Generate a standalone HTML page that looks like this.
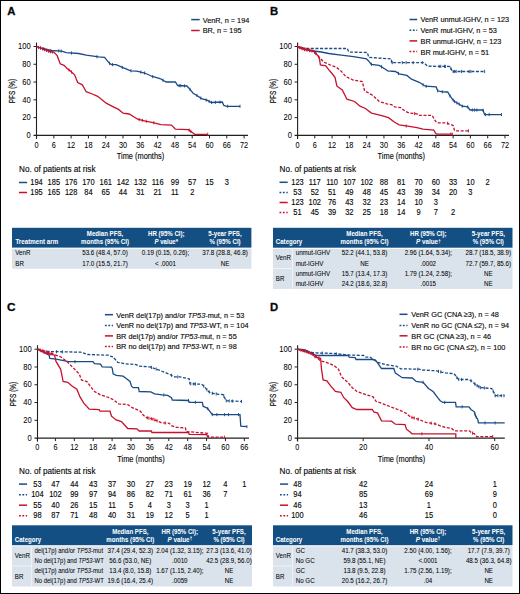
<!DOCTYPE html>
<html><head><meta charset="utf-8"><style>
html,body{margin:0;padding:0;background:#fff;}
svg{display:block;}
text{font-family:"Liberation Sans",sans-serif;}
</style></head><body>
<svg width="520" height="594" viewBox="0 0 520 594" font-family="Liberation Sans, sans-serif">
<rect x="0" y="0" width="520" height="594" fill="#ffffff"/>
<text x="7.30" y="15.00" font-size="11.3" stroke="#231f20" stroke-width="0.3" font-weight="bold">A</text>
<line x1="191.20" y1="19.60" x2="199.70" y2="19.60" stroke="#1a4b87" stroke-width="1.5"/>
<text x="202.70" y="22.50" font-size="8" stroke="#231f20" stroke-width="0.15" textLength="46.60" lengthAdjust="spacingAndGlyphs">VenR, n = 194</text>
<line x1="191.20" y1="30.50" x2="199.70" y2="30.50" stroke="#c8102e" stroke-width="1.5"/>
<text x="202.70" y="33.40" font-size="8" stroke="#231f20" stroke-width="0.15" textLength="38.86" lengthAdjust="spacingAndGlyphs">BR, n = 195</text>
<line x1="36.50" y1="42.50" x2="36.50" y2="138.90" stroke="#231f20" stroke-width="1.1"/>
<line x1="33.50" y1="135.40" x2="248.00" y2="135.40" stroke="#231f20" stroke-width="1.1"/>
<line x1="33.50" y1="117.62" x2="36.50" y2="117.62" stroke="#231f20" stroke-width="1"/>
<line x1="33.50" y1="99.84" x2="36.50" y2="99.84" stroke="#231f20" stroke-width="1"/>
<line x1="33.50" y1="82.06" x2="36.50" y2="82.06" stroke="#231f20" stroke-width="1"/>
<line x1="33.50" y1="64.28" x2="36.50" y2="64.28" stroke="#231f20" stroke-width="1"/>
<line x1="33.50" y1="46.50" x2="36.50" y2="46.50" stroke="#231f20" stroke-width="1"/>
<text x="30.80" y="138.10" font-size="8.8" stroke="#231f20" stroke-width="0.05" text-anchor="end" textLength="4.23" lengthAdjust="spacingAndGlyphs">0</text>
<text x="30.80" y="120.32" font-size="8.8" stroke="#231f20" stroke-width="0.05" text-anchor="end" textLength="8.46" lengthAdjust="spacingAndGlyphs">20</text>
<text x="30.80" y="102.54" font-size="8.8" stroke="#231f20" stroke-width="0.05" text-anchor="end" textLength="8.46" lengthAdjust="spacingAndGlyphs">40</text>
<text x="30.80" y="84.76" font-size="8.8" stroke="#231f20" stroke-width="0.05" text-anchor="end" textLength="8.46" lengthAdjust="spacingAndGlyphs">60</text>
<text x="30.80" y="66.98" font-size="8.8" stroke="#231f20" stroke-width="0.05" text-anchor="end" textLength="8.46" lengthAdjust="spacingAndGlyphs">80</text>
<text x="30.80" y="49.20" font-size="8.8" stroke="#231f20" stroke-width="0.05" text-anchor="end" textLength="12.69" lengthAdjust="spacingAndGlyphs">100</text>
<line x1="36.54" y1="135.40" x2="36.54" y2="138.40" stroke="#231f20" stroke-width="1"/>
<text x="36.54" y="148.00" font-size="8.8" stroke="#231f20" stroke-width="0.05" text-anchor="middle" textLength="4.09" lengthAdjust="spacingAndGlyphs">0</text>
<line x1="53.84" y1="135.40" x2="53.84" y2="138.40" stroke="#231f20" stroke-width="1"/>
<text x="53.84" y="148.00" font-size="8.8" stroke="#231f20" stroke-width="0.05" text-anchor="middle" textLength="4.09" lengthAdjust="spacingAndGlyphs">6</text>
<line x1="71.13" y1="135.40" x2="71.13" y2="138.40" stroke="#231f20" stroke-width="1"/>
<text x="71.13" y="148.00" font-size="8.8" stroke="#231f20" stroke-width="0.05" text-anchor="middle" textLength="8.18" lengthAdjust="spacingAndGlyphs">12</text>
<line x1="88.43" y1="135.40" x2="88.43" y2="138.40" stroke="#231f20" stroke-width="1"/>
<text x="88.43" y="148.00" font-size="8.8" stroke="#231f20" stroke-width="0.05" text-anchor="middle" textLength="8.18" lengthAdjust="spacingAndGlyphs">18</text>
<line x1="105.72" y1="135.40" x2="105.72" y2="138.40" stroke="#231f20" stroke-width="1"/>
<text x="105.72" y="148.00" font-size="8.8" stroke="#231f20" stroke-width="0.05" text-anchor="middle" textLength="8.18" lengthAdjust="spacingAndGlyphs">24</text>
<line x1="123.02" y1="135.40" x2="123.02" y2="138.40" stroke="#231f20" stroke-width="1"/>
<text x="123.02" y="148.00" font-size="8.8" stroke="#231f20" stroke-width="0.05" text-anchor="middle" textLength="8.18" lengthAdjust="spacingAndGlyphs">30</text>
<line x1="140.31" y1="135.40" x2="140.31" y2="138.40" stroke="#231f20" stroke-width="1"/>
<text x="140.31" y="148.00" font-size="8.8" stroke="#231f20" stroke-width="0.05" text-anchor="middle" textLength="8.18" lengthAdjust="spacingAndGlyphs">36</text>
<line x1="157.61" y1="135.40" x2="157.61" y2="138.40" stroke="#231f20" stroke-width="1"/>
<text x="157.61" y="148.00" font-size="8.8" stroke="#231f20" stroke-width="0.05" text-anchor="middle" textLength="8.18" lengthAdjust="spacingAndGlyphs">42</text>
<line x1="174.90" y1="135.40" x2="174.90" y2="138.40" stroke="#231f20" stroke-width="1"/>
<text x="174.90" y="148.00" font-size="8.8" stroke="#231f20" stroke-width="0.05" text-anchor="middle" textLength="8.18" lengthAdjust="spacingAndGlyphs">48</text>
<line x1="192.20" y1="135.40" x2="192.20" y2="138.40" stroke="#231f20" stroke-width="1"/>
<text x="192.20" y="148.00" font-size="8.8" stroke="#231f20" stroke-width="0.05" text-anchor="middle" textLength="8.18" lengthAdjust="spacingAndGlyphs">54</text>
<line x1="209.49" y1="135.40" x2="209.49" y2="138.40" stroke="#231f20" stroke-width="1"/>
<text x="209.49" y="148.00" font-size="8.8" stroke="#231f20" stroke-width="0.05" text-anchor="middle" textLength="8.18" lengthAdjust="spacingAndGlyphs">60</text>
<line x1="226.78" y1="135.40" x2="226.78" y2="138.40" stroke="#231f20" stroke-width="1"/>
<text x="226.78" y="148.00" font-size="8.8" stroke="#231f20" stroke-width="0.05" text-anchor="middle" textLength="8.18" lengthAdjust="spacingAndGlyphs">66</text>
<line x1="244.08" y1="135.40" x2="244.08" y2="138.40" stroke="#231f20" stroke-width="1"/>
<text x="244.08" y="148.00" font-size="8.8" stroke="#231f20" stroke-width="0.05" text-anchor="middle" textLength="8.18" lengthAdjust="spacingAndGlyphs">72</text>
<text transform="translate(14.8,91) rotate(-90)" font-size="9.6" text-anchor="middle" stroke="#231f20" stroke-width="0.2" textLength="24.5" lengthAdjust="spacingAndGlyphs">PFS (%)</text>
<text x="140.50" y="159.30" font-size="9.4" stroke="#231f20" stroke-width="0.15" text-anchor="middle" textLength="47.40" lengthAdjust="spacingAndGlyphs">Time (months)</text>
<text x="19.00" y="171.70" font-size="9" stroke="#231f20" stroke-width="0.15" textLength="76.50" lengthAdjust="spacingAndGlyphs">No. of patients at risk</text>
<line x1="18.90" y1="182.50" x2="27.10" y2="182.50" stroke="#1a4b87" stroke-width="1.5"/>
<text x="36.54" y="185.00" font-size="9" stroke="#231f20" stroke-width="0.15" text-anchor="middle" textLength="12.46" lengthAdjust="spacingAndGlyphs">194</text>
<text x="53.84" y="185.00" font-size="9" stroke="#231f20" stroke-width="0.15" text-anchor="middle" textLength="12.46" lengthAdjust="spacingAndGlyphs">185</text>
<text x="71.13" y="185.00" font-size="9" stroke="#231f20" stroke-width="0.15" text-anchor="middle" textLength="12.46" lengthAdjust="spacingAndGlyphs">176</text>
<text x="88.43" y="185.00" font-size="9" stroke="#231f20" stroke-width="0.15" text-anchor="middle" textLength="12.46" lengthAdjust="spacingAndGlyphs">170</text>
<text x="105.72" y="185.00" font-size="9" stroke="#231f20" stroke-width="0.15" text-anchor="middle" textLength="12.46" lengthAdjust="spacingAndGlyphs">161</text>
<text x="123.02" y="185.00" font-size="9" stroke="#231f20" stroke-width="0.15" text-anchor="middle" textLength="12.46" lengthAdjust="spacingAndGlyphs">142</text>
<text x="140.31" y="185.00" font-size="9" stroke="#231f20" stroke-width="0.15" text-anchor="middle" textLength="12.46" lengthAdjust="spacingAndGlyphs">132</text>
<text x="157.61" y="185.00" font-size="9" stroke="#231f20" stroke-width="0.15" text-anchor="middle" textLength="11.91" lengthAdjust="spacingAndGlyphs">116</text>
<text x="174.90" y="185.00" font-size="9" stroke="#231f20" stroke-width="0.15" text-anchor="middle" textLength="8.31" lengthAdjust="spacingAndGlyphs">99</text>
<text x="192.20" y="185.00" font-size="9" stroke="#231f20" stroke-width="0.15" text-anchor="middle" textLength="8.31" lengthAdjust="spacingAndGlyphs">57</text>
<text x="209.49" y="185.00" font-size="9" stroke="#231f20" stroke-width="0.15" text-anchor="middle" textLength="8.31" lengthAdjust="spacingAndGlyphs">15</text>
<text x="226.78" y="185.00" font-size="9" stroke="#231f20" stroke-width="0.15" text-anchor="middle" textLength="4.15" lengthAdjust="spacingAndGlyphs">3</text>
<line x1="18.90" y1="192.50" x2="27.10" y2="192.50" stroke="#c8102e" stroke-width="1.5"/>
<text x="36.54" y="195.00" font-size="9" stroke="#231f20" stroke-width="0.15" text-anchor="middle" textLength="12.46" lengthAdjust="spacingAndGlyphs">195</text>
<text x="53.84" y="195.00" font-size="9" stroke="#231f20" stroke-width="0.15" text-anchor="middle" textLength="12.46" lengthAdjust="spacingAndGlyphs">165</text>
<text x="71.13" y="195.00" font-size="9" stroke="#231f20" stroke-width="0.15" text-anchor="middle" textLength="12.46" lengthAdjust="spacingAndGlyphs">128</text>
<text x="88.43" y="195.00" font-size="9" stroke="#231f20" stroke-width="0.15" text-anchor="middle" textLength="8.31" lengthAdjust="spacingAndGlyphs">84</text>
<text x="105.72" y="195.00" font-size="9" stroke="#231f20" stroke-width="0.15" text-anchor="middle" textLength="8.31" lengthAdjust="spacingAndGlyphs">65</text>
<text x="123.02" y="195.00" font-size="9" stroke="#231f20" stroke-width="0.15" text-anchor="middle" textLength="8.31" lengthAdjust="spacingAndGlyphs">44</text>
<text x="140.31" y="195.00" font-size="9" stroke="#231f20" stroke-width="0.15" text-anchor="middle" textLength="8.31" lengthAdjust="spacingAndGlyphs">31</text>
<text x="157.61" y="195.00" font-size="9" stroke="#231f20" stroke-width="0.15" text-anchor="middle" textLength="8.31" lengthAdjust="spacingAndGlyphs">21</text>
<text x="174.90" y="195.00" font-size="9" stroke="#231f20" stroke-width="0.15" text-anchor="middle" textLength="7.75" lengthAdjust="spacingAndGlyphs">11</text>
<text x="192.20" y="195.00" font-size="9" stroke="#231f20" stroke-width="0.15" text-anchor="middle" textLength="4.15" lengthAdjust="spacingAndGlyphs">2</text>
<polyline points="36.3,46.5 43.2,48.5 50.9,50.5 61.7,51.1 66.3,52.6 78.6,53.5 86.3,55.1 98.6,56.9 104.6,57.4 109.2,63.1 111.5,64.6 116.2,64.6 123.0,67.7 130.8,70.8 136.9,71.2 144.6,73.0 152.3,76.5 160.0,78.5 166.2,82.0 175.4,82.0 177.7,85.5 186.9,86.0 190.0,89.4 193.1,93.2 196.9,95.5 201.5,98.6 206.9,100.2 211.5,102.5 222.3,102.0 223.8,105.5 226.9,106.3 240.0,106.3" fill="none" stroke="#1a4b87" stroke-width="1.3"/>
<polyline points="36.3,46.5 43.2,49.2 49.4,51.5 54.0,52.3 57.1,55.4 60.2,63.8 64.0,65.4 67.1,68.5 71.0,71.5 74.6,74.8 77.7,82.5 82.3,84.8 86.2,91.7 92.3,94.0 97.7,96.3 106.2,103.2 113.8,107.1 118.5,109.4 123.1,113.2 129.2,114.0 137.7,119.2 145.4,121.1 153.1,122.6 160.8,124.6 171.5,125.1 175.4,129.2 188.5,129.7 193.1,133.1 194.6,134.3 207.7,134.3" fill="none" stroke="#c8102e" stroke-width="1.3"/>
<rect x="12" y="227.8" width="239.4" height="19.8" fill="#144f83"/>
<rect x="12" y="248.7" width="239.4" height="20.1" fill="#dae3ec"/>
<text x="15.40" y="244.00" font-size="6.5" stroke="#ffffff" stroke-width="0.03" font-weight="bold" fill="#ffffff" textLength="42.80" lengthAdjust="spacingAndGlyphs">Treatment arm</text>
<text x="105.00" y="236.20" font-size="6.5" stroke="#ffffff" stroke-width="0.03" font-weight="bold" text-anchor="middle" fill="#ffffff" textLength="36.33" lengthAdjust="spacingAndGlyphs">Median PFS,</text>
<text x="105.00" y="244.20" font-size="6.5" stroke="#ffffff" stroke-width="0.03" font-weight="bold" text-anchor="middle" fill="#ffffff" textLength="47.87" lengthAdjust="spacingAndGlyphs">months (95% CI)</text>
<text x="166.30" y="236.20" font-size="6.5" stroke="#ffffff" stroke-width="0.03" font-weight="bold" text-anchor="middle" fill="#ffffff" textLength="36.66" lengthAdjust="spacingAndGlyphs">HR (95% CI);</text>
<text x="166.30" y="244.20" font-size="6.5" stroke="#ffffff" stroke-width="0.03" font-weight="bold" text-anchor="middle" fill="#ffffff" textLength="23.66" lengthAdjust="spacingAndGlyphs"><tspan font-style="italic">P</tspan> value<tspan dy="-0.6">*</tspan></text>
<text x="225.00" y="236.20" font-size="6.5" stroke="#ffffff" stroke-width="0.03" font-weight="bold" text-anchor="middle" fill="#ffffff" textLength="33.28" lengthAdjust="spacingAndGlyphs">5-year PFS,</text>
<text x="225.00" y="244.20" font-size="6.5" stroke="#ffffff" stroke-width="0.03" font-weight="bold" text-anchor="middle" fill="#ffffff" textLength="31.24" lengthAdjust="spacingAndGlyphs">% (95% CI)</text>
<text x="15.30" y="255.10" font-size="6.4" stroke="#231f20" stroke-width="0.06" textLength="15.19" lengthAdjust="spacingAndGlyphs">VenR</text>
<text x="105.00" y="255.10" font-size="6.4" stroke="#231f20" stroke-width="0.06" text-anchor="middle" textLength="45.56" lengthAdjust="spacingAndGlyphs">53.6 (48.4, 57.0)</text>
<text x="165.50" y="255.10" font-size="6.4" stroke="#231f20" stroke-width="0.06" text-anchor="middle" textLength="47.28" lengthAdjust="spacingAndGlyphs">0.19 (0.15, 0.26);</text>
<text x="225.00" y="255.10" font-size="6.4" stroke="#231f20" stroke-width="0.06" text-anchor="middle" textLength="45.56" lengthAdjust="spacingAndGlyphs">37.8 (28.8, 46.8)</text>
<text x="15.30" y="265.70" font-size="6.4" stroke="#231f20" stroke-width="0.06" textLength="8.62" lengthAdjust="spacingAndGlyphs">BR</text>
<text x="105.00" y="265.70" font-size="6.4" stroke="#231f20" stroke-width="0.06" text-anchor="middle" textLength="45.56" lengthAdjust="spacingAndGlyphs">17.0 (15.5, 21.7)</text>
<text x="165.50" y="265.70" font-size="6.4" stroke="#231f20" stroke-width="0.06" text-anchor="middle" textLength="20.89" lengthAdjust="spacingAndGlyphs">&lt; .0001</text>
<text x="225.00" y="265.70" font-size="6.4" stroke="#231f20" stroke-width="0.06" text-anchor="middle" textLength="8.62" lengthAdjust="spacingAndGlyphs">NE</text>
<text x="270.00" y="15.00" font-size="11.3" stroke="#231f20" stroke-width="0.3" font-weight="bold">B</text>
<line x1="409.50" y1="19.50" x2="417.20" y2="19.50" stroke="#1a4b87" stroke-width="1.5"/>
<text x="420.50" y="22.40" font-size="8" stroke="#231f20" stroke-width="0.15" textLength="88.64" lengthAdjust="spacingAndGlyphs">VenR unmut-IGHV, n = 123</text>
<line x1="409.50" y1="30.20" x2="417.20" y2="30.20" stroke="#1a4b87" stroke-width="1.5" stroke-dasharray="1.8,1.6"/>
<text x="420.50" y="33.10" font-size="8" stroke="#231f20" stroke-width="0.15" textLength="76.43" lengthAdjust="spacingAndGlyphs">VenR mut-IGHV, n = 53</text>
<line x1="409.50" y1="40.90" x2="417.20" y2="40.90" stroke="#c8102e" stroke-width="1.5"/>
<text x="420.50" y="43.80" font-size="8" stroke="#231f20" stroke-width="0.15" textLength="80.90" lengthAdjust="spacingAndGlyphs">BR unmut-IGHV, n = 123</text>
<line x1="409.50" y1="51.60" x2="417.20" y2="51.60" stroke="#c8102e" stroke-width="1.5" stroke-dasharray="1.8,1.6"/>
<text x="420.50" y="54.50" font-size="8" stroke="#231f20" stroke-width="0.15" textLength="68.69" lengthAdjust="spacingAndGlyphs">BR mut-IGHV, n = 51</text>
<line x1="297.60" y1="42.50" x2="297.60" y2="138.90" stroke="#231f20" stroke-width="1.1"/>
<line x1="294.60" y1="135.40" x2="509.00" y2="135.40" stroke="#231f20" stroke-width="1.1"/>
<line x1="294.60" y1="117.62" x2="297.60" y2="117.62" stroke="#231f20" stroke-width="1"/>
<line x1="294.60" y1="99.84" x2="297.60" y2="99.84" stroke="#231f20" stroke-width="1"/>
<line x1="294.60" y1="82.06" x2="297.60" y2="82.06" stroke="#231f20" stroke-width="1"/>
<line x1="294.60" y1="64.28" x2="297.60" y2="64.28" stroke="#231f20" stroke-width="1"/>
<line x1="294.60" y1="46.50" x2="297.60" y2="46.50" stroke="#231f20" stroke-width="1"/>
<text x="291.90" y="138.10" font-size="8.8" stroke="#231f20" stroke-width="0.05" text-anchor="end" textLength="4.23" lengthAdjust="spacingAndGlyphs">0</text>
<text x="291.90" y="120.32" font-size="8.8" stroke="#231f20" stroke-width="0.05" text-anchor="end" textLength="8.46" lengthAdjust="spacingAndGlyphs">20</text>
<text x="291.90" y="102.54" font-size="8.8" stroke="#231f20" stroke-width="0.05" text-anchor="end" textLength="8.46" lengthAdjust="spacingAndGlyphs">40</text>
<text x="291.90" y="84.76" font-size="8.8" stroke="#231f20" stroke-width="0.05" text-anchor="end" textLength="8.46" lengthAdjust="spacingAndGlyphs">60</text>
<text x="291.90" y="66.98" font-size="8.8" stroke="#231f20" stroke-width="0.05" text-anchor="end" textLength="8.46" lengthAdjust="spacingAndGlyphs">80</text>
<text x="291.90" y="49.20" font-size="8.8" stroke="#231f20" stroke-width="0.05" text-anchor="end" textLength="12.69" lengthAdjust="spacingAndGlyphs">100</text>
<line x1="297.50" y1="135.40" x2="297.50" y2="138.40" stroke="#231f20" stroke-width="1"/>
<text x="297.50" y="148.00" font-size="8.8" stroke="#231f20" stroke-width="0.05" text-anchor="middle" textLength="4.09" lengthAdjust="spacingAndGlyphs">0</text>
<line x1="314.79" y1="135.40" x2="314.79" y2="138.40" stroke="#231f20" stroke-width="1"/>
<text x="314.79" y="148.00" font-size="8.8" stroke="#231f20" stroke-width="0.05" text-anchor="middle" textLength="4.09" lengthAdjust="spacingAndGlyphs">6</text>
<line x1="332.08" y1="135.40" x2="332.08" y2="138.40" stroke="#231f20" stroke-width="1"/>
<text x="332.08" y="148.00" font-size="8.8" stroke="#231f20" stroke-width="0.05" text-anchor="middle" textLength="8.18" lengthAdjust="spacingAndGlyphs">12</text>
<line x1="349.37" y1="135.40" x2="349.37" y2="138.40" stroke="#231f20" stroke-width="1"/>
<text x="349.37" y="148.00" font-size="8.8" stroke="#231f20" stroke-width="0.05" text-anchor="middle" textLength="8.18" lengthAdjust="spacingAndGlyphs">18</text>
<line x1="366.66" y1="135.40" x2="366.66" y2="138.40" stroke="#231f20" stroke-width="1"/>
<text x="366.66" y="148.00" font-size="8.8" stroke="#231f20" stroke-width="0.05" text-anchor="middle" textLength="8.18" lengthAdjust="spacingAndGlyphs">24</text>
<line x1="383.95" y1="135.40" x2="383.95" y2="138.40" stroke="#231f20" stroke-width="1"/>
<text x="383.95" y="148.00" font-size="8.8" stroke="#231f20" stroke-width="0.05" text-anchor="middle" textLength="8.18" lengthAdjust="spacingAndGlyphs">30</text>
<line x1="401.24" y1="135.40" x2="401.24" y2="138.40" stroke="#231f20" stroke-width="1"/>
<text x="401.24" y="148.00" font-size="8.8" stroke="#231f20" stroke-width="0.05" text-anchor="middle" textLength="8.18" lengthAdjust="spacingAndGlyphs">36</text>
<line x1="418.53" y1="135.40" x2="418.53" y2="138.40" stroke="#231f20" stroke-width="1"/>
<text x="418.53" y="148.00" font-size="8.8" stroke="#231f20" stroke-width="0.05" text-anchor="middle" textLength="8.18" lengthAdjust="spacingAndGlyphs">42</text>
<line x1="435.82" y1="135.40" x2="435.82" y2="138.40" stroke="#231f20" stroke-width="1"/>
<text x="435.82" y="148.00" font-size="8.8" stroke="#231f20" stroke-width="0.05" text-anchor="middle" textLength="8.18" lengthAdjust="spacingAndGlyphs">48</text>
<line x1="453.11" y1="135.40" x2="453.11" y2="138.40" stroke="#231f20" stroke-width="1"/>
<text x="453.11" y="148.00" font-size="8.8" stroke="#231f20" stroke-width="0.05" text-anchor="middle" textLength="8.18" lengthAdjust="spacingAndGlyphs">54</text>
<line x1="470.40" y1="135.40" x2="470.40" y2="138.40" stroke="#231f20" stroke-width="1"/>
<text x="470.40" y="148.00" font-size="8.8" stroke="#231f20" stroke-width="0.05" text-anchor="middle" textLength="8.18" lengthAdjust="spacingAndGlyphs">60</text>
<line x1="487.69" y1="135.40" x2="487.69" y2="138.40" stroke="#231f20" stroke-width="1"/>
<text x="487.69" y="148.00" font-size="8.8" stroke="#231f20" stroke-width="0.05" text-anchor="middle" textLength="8.18" lengthAdjust="spacingAndGlyphs">66</text>
<line x1="504.98" y1="135.40" x2="504.98" y2="138.40" stroke="#231f20" stroke-width="1"/>
<text x="504.98" y="148.00" font-size="8.8" stroke="#231f20" stroke-width="0.05" text-anchor="middle" textLength="8.18" lengthAdjust="spacingAndGlyphs">72</text>
<text transform="translate(275.8,91) rotate(-90)" font-size="9.6" text-anchor="middle" stroke="#231f20" stroke-width="0.2" textLength="24.5" lengthAdjust="spacingAndGlyphs">PFS (%)</text>
<text x="401.30" y="159.30" font-size="9.4" stroke="#231f20" stroke-width="0.15" text-anchor="middle" textLength="47.40" lengthAdjust="spacingAndGlyphs">Time (months)</text>
<text x="279.50" y="171.70" font-size="9" stroke="#231f20" stroke-width="0.15" textLength="76.50" lengthAdjust="spacingAndGlyphs">No. of patients at risk</text>
<line x1="279.50" y1="182.30" x2="287.70" y2="182.30" stroke="#1a4b87" stroke-width="1.5"/>
<text x="297.50" y="184.80" font-size="9" stroke="#231f20" stroke-width="0.15" text-anchor="middle" textLength="12.46" lengthAdjust="spacingAndGlyphs">123</text>
<text x="314.79" y="184.80" font-size="9" stroke="#231f20" stroke-width="0.15" text-anchor="middle" textLength="11.91" lengthAdjust="spacingAndGlyphs">117</text>
<text x="332.08" y="184.80" font-size="9" stroke="#231f20" stroke-width="0.15" text-anchor="middle" textLength="11.91" lengthAdjust="spacingAndGlyphs">110</text>
<text x="349.37" y="184.80" font-size="9" stroke="#231f20" stroke-width="0.15" text-anchor="middle" textLength="12.46" lengthAdjust="spacingAndGlyphs">107</text>
<text x="366.66" y="184.80" font-size="9" stroke="#231f20" stroke-width="0.15" text-anchor="middle" textLength="12.46" lengthAdjust="spacingAndGlyphs">102</text>
<text x="383.95" y="184.80" font-size="9" stroke="#231f20" stroke-width="0.15" text-anchor="middle" textLength="8.31" lengthAdjust="spacingAndGlyphs">88</text>
<text x="401.24" y="184.80" font-size="9" stroke="#231f20" stroke-width="0.15" text-anchor="middle" textLength="8.31" lengthAdjust="spacingAndGlyphs">81</text>
<text x="418.53" y="184.80" font-size="9" stroke="#231f20" stroke-width="0.15" text-anchor="middle" textLength="8.31" lengthAdjust="spacingAndGlyphs">70</text>
<text x="435.82" y="184.80" font-size="9" stroke="#231f20" stroke-width="0.15" text-anchor="middle" textLength="8.31" lengthAdjust="spacingAndGlyphs">60</text>
<text x="453.11" y="184.80" font-size="9" stroke="#231f20" stroke-width="0.15" text-anchor="middle" textLength="8.31" lengthAdjust="spacingAndGlyphs">33</text>
<text x="470.40" y="184.80" font-size="9" stroke="#231f20" stroke-width="0.15" text-anchor="middle" textLength="8.31" lengthAdjust="spacingAndGlyphs">10</text>
<text x="487.69" y="184.80" font-size="9" stroke="#231f20" stroke-width="0.15" text-anchor="middle" textLength="4.15" lengthAdjust="spacingAndGlyphs">2</text>
<line x1="279.50" y1="192.40" x2="287.70" y2="192.40" stroke="#1a4b87" stroke-width="1.5" stroke-dasharray="1.8,1.6"/>
<text x="297.50" y="194.90" font-size="9" stroke="#231f20" stroke-width="0.15" text-anchor="middle" textLength="8.31" lengthAdjust="spacingAndGlyphs">53</text>
<text x="314.79" y="194.90" font-size="9" stroke="#231f20" stroke-width="0.15" text-anchor="middle" textLength="8.31" lengthAdjust="spacingAndGlyphs">52</text>
<text x="332.08" y="194.90" font-size="9" stroke="#231f20" stroke-width="0.15" text-anchor="middle" textLength="8.31" lengthAdjust="spacingAndGlyphs">51</text>
<text x="349.37" y="194.90" font-size="9" stroke="#231f20" stroke-width="0.15" text-anchor="middle" textLength="8.31" lengthAdjust="spacingAndGlyphs">49</text>
<text x="366.66" y="194.90" font-size="9" stroke="#231f20" stroke-width="0.15" text-anchor="middle" textLength="8.31" lengthAdjust="spacingAndGlyphs">48</text>
<text x="383.95" y="194.90" font-size="9" stroke="#231f20" stroke-width="0.15" text-anchor="middle" textLength="8.31" lengthAdjust="spacingAndGlyphs">45</text>
<text x="401.24" y="194.90" font-size="9" stroke="#231f20" stroke-width="0.15" text-anchor="middle" textLength="8.31" lengthAdjust="spacingAndGlyphs">43</text>
<text x="418.53" y="194.90" font-size="9" stroke="#231f20" stroke-width="0.15" text-anchor="middle" textLength="8.31" lengthAdjust="spacingAndGlyphs">39</text>
<text x="435.82" y="194.90" font-size="9" stroke="#231f20" stroke-width="0.15" text-anchor="middle" textLength="8.31" lengthAdjust="spacingAndGlyphs">34</text>
<text x="453.11" y="194.90" font-size="9" stroke="#231f20" stroke-width="0.15" text-anchor="middle" textLength="8.31" lengthAdjust="spacingAndGlyphs">20</text>
<text x="470.40" y="194.90" font-size="9" stroke="#231f20" stroke-width="0.15" text-anchor="middle" textLength="4.15" lengthAdjust="spacingAndGlyphs">3</text>
<line x1="279.50" y1="202.50" x2="287.70" y2="202.50" stroke="#c8102e" stroke-width="1.5"/>
<text x="297.50" y="205.00" font-size="9" stroke="#231f20" stroke-width="0.15" text-anchor="middle" textLength="12.46" lengthAdjust="spacingAndGlyphs">123</text>
<text x="314.79" y="205.00" font-size="9" stroke="#231f20" stroke-width="0.15" text-anchor="middle" textLength="12.46" lengthAdjust="spacingAndGlyphs">102</text>
<text x="332.08" y="205.00" font-size="9" stroke="#231f20" stroke-width="0.15" text-anchor="middle" textLength="8.31" lengthAdjust="spacingAndGlyphs">76</text>
<text x="349.37" y="205.00" font-size="9" stroke="#231f20" stroke-width="0.15" text-anchor="middle" textLength="8.31" lengthAdjust="spacingAndGlyphs">43</text>
<text x="366.66" y="205.00" font-size="9" stroke="#231f20" stroke-width="0.15" text-anchor="middle" textLength="8.31" lengthAdjust="spacingAndGlyphs">32</text>
<text x="383.95" y="205.00" font-size="9" stroke="#231f20" stroke-width="0.15" text-anchor="middle" textLength="8.31" lengthAdjust="spacingAndGlyphs">23</text>
<text x="401.24" y="205.00" font-size="9" stroke="#231f20" stroke-width="0.15" text-anchor="middle" textLength="8.31" lengthAdjust="spacingAndGlyphs">14</text>
<text x="418.53" y="205.00" font-size="9" stroke="#231f20" stroke-width="0.15" text-anchor="middle" textLength="8.31" lengthAdjust="spacingAndGlyphs">10</text>
<text x="435.82" y="205.00" font-size="9" stroke="#231f20" stroke-width="0.15" text-anchor="middle" textLength="4.15" lengthAdjust="spacingAndGlyphs">3</text>
<line x1="279.50" y1="212.60" x2="287.70" y2="212.60" stroke="#c8102e" stroke-width="1.5" stroke-dasharray="1.8,1.6"/>
<text x="297.50" y="215.10" font-size="9" stroke="#231f20" stroke-width="0.15" text-anchor="middle" textLength="8.31" lengthAdjust="spacingAndGlyphs">51</text>
<text x="314.79" y="215.10" font-size="9" stroke="#231f20" stroke-width="0.15" text-anchor="middle" textLength="8.31" lengthAdjust="spacingAndGlyphs">45</text>
<text x="332.08" y="215.10" font-size="9" stroke="#231f20" stroke-width="0.15" text-anchor="middle" textLength="8.31" lengthAdjust="spacingAndGlyphs">39</text>
<text x="349.37" y="215.10" font-size="9" stroke="#231f20" stroke-width="0.15" text-anchor="middle" textLength="8.31" lengthAdjust="spacingAndGlyphs">32</text>
<text x="366.66" y="215.10" font-size="9" stroke="#231f20" stroke-width="0.15" text-anchor="middle" textLength="8.31" lengthAdjust="spacingAndGlyphs">25</text>
<text x="383.95" y="215.10" font-size="9" stroke="#231f20" stroke-width="0.15" text-anchor="middle" textLength="8.31" lengthAdjust="spacingAndGlyphs">18</text>
<text x="401.24" y="215.10" font-size="9" stroke="#231f20" stroke-width="0.15" text-anchor="middle" textLength="8.31" lengthAdjust="spacingAndGlyphs">14</text>
<text x="418.53" y="215.10" font-size="9" stroke="#231f20" stroke-width="0.15" text-anchor="middle" textLength="4.15" lengthAdjust="spacingAndGlyphs">9</text>
<text x="435.82" y="215.10" font-size="9" stroke="#231f20" stroke-width="0.15" text-anchor="middle" textLength="4.15" lengthAdjust="spacingAndGlyphs">7</text>
<text x="453.11" y="215.10" font-size="9" stroke="#231f20" stroke-width="0.15" text-anchor="middle" textLength="4.15" lengthAdjust="spacingAndGlyphs">2</text>
<polyline points="297.3,46.6 310.4,50.5 321.2,52.0 328.8,53.5 341.2,55.1 353.5,56.6 359.6,57.7 366.5,58.9 368.8,61.2 371.2,64.3 379.2,65.4 385.4,69.2 387.7,70.8 395.4,71.5 399.2,73.8 406.9,75.4 411.5,79.2 419.2,82.3 425.4,86.2 436.2,86.9 437.7,90.8 442.3,91.8 447.7,92.0 449.2,94.6 452.3,99.2 454.6,101.5 458.5,103.8 462.3,106.2 467.7,106.9 470.0,110.0 483.0,110.0 484.6,114.6 501.5,114.6" fill="none" stroke="#1a4b87" stroke-width="1.3"/>
<polyline points="297.3,46.6 304.2,48.5 347.3,48.5 348.8,52.0 367.3,52.5 368.8,57.4 391.5,58.9 391.5,62.6 423.8,62.6 427.7,66.2 450.0,66.5 452.3,71.5 484.6,71.5" fill="none" stroke="#1a4b87" stroke-width="1.3" stroke-dasharray="3,1.6"/>
<polyline points="297.3,46.6 304.2,49.7 313.5,51.2 318.1,55.8 319.6,59.7 320.4,65.0 325.8,65.8 328.1,68.9 332.0,73.5 335.0,77.4 336.9,86.2 342.3,90.0 346.9,99.2 354.6,101.5 360.0,106.2 365.4,108.5 371.5,113.1 380.8,115.4 388.5,117.7 394.6,122.3 399.2,124.8 407.7,126.2 416.9,127.7 423.1,129.2 433.8,130.0 435.4,133.1 437.0,134.2 452.3,134.2" fill="none" stroke="#c8102e" stroke-width="1.3"/>
<polyline points="297.3,46.6 313.5,51.2 319.6,57.4 323.5,62.0 330.4,65.0 336.5,67.4 341.2,71.2 345.8,76.6 353.1,80.0 362.3,81.5 364.6,90.8 371.5,94.6 376.2,98.5 379.2,101.5 386.9,103.8 391.5,104.6 394.6,106.9 400.8,107.7 404.6,110.8 409.2,113.1 416.9,113.8 418.5,115.4 432.3,115.4 434.6,120.0 436.9,122.8 446.9,122.8 448.5,123.8 453.1,125.4 454.6,130.8 468.5,130.8" fill="none" stroke="#c8102e" stroke-width="1.3" stroke-dasharray="3,1.6"/>
<rect x="273" y="227.8" width="239.5" height="19.899999999999988" fill="#144f83"/>
<rect x="273" y="248.79999999999998" width="239.5" height="40.150000000000006" fill="#dae3ec"/>
<line x1="292.50" y1="248.80" x2="292.50" y2="288.95" stroke="#eef2f6" stroke-width="1"/>
<line x1="273.00" y1="268.50" x2="292.50" y2="268.50" stroke="#eef2f6" stroke-width="1"/>
<text x="275.80" y="244.20" font-size="6.5" stroke="#ffffff" stroke-width="0.03" font-weight="bold" fill="#ffffff" textLength="26.48" lengthAdjust="spacingAndGlyphs">Category</text>
<text x="364.50" y="236.20" font-size="6.5" stroke="#ffffff" stroke-width="0.03" font-weight="bold" text-anchor="middle" fill="#ffffff" textLength="36.33" lengthAdjust="spacingAndGlyphs">Median PFS,</text>
<text x="364.50" y="244.20" font-size="6.5" stroke="#ffffff" stroke-width="0.03" font-weight="bold" text-anchor="middle" fill="#ffffff" textLength="47.87" lengthAdjust="spacingAndGlyphs">months (95% CI)</text>
<text x="428.30" y="236.20" font-size="6.5" stroke="#ffffff" stroke-width="0.03" font-weight="bold" text-anchor="middle" fill="#ffffff" textLength="36.66" lengthAdjust="spacingAndGlyphs">HR (95% CI);</text>
<text x="428.30" y="244.20" font-size="6.5" stroke="#ffffff" stroke-width="0.03" font-weight="bold" text-anchor="middle" fill="#ffffff" textLength="24.68" lengthAdjust="spacingAndGlyphs"><tspan font-style="italic">P</tspan> value<tspan font-size="4.6" dy="-1.6">†</tspan></text>
<text x="488.30" y="236.20" font-size="6.5" stroke="#ffffff" stroke-width="0.03" font-weight="bold" text-anchor="middle" fill="#ffffff" textLength="33.28" lengthAdjust="spacingAndGlyphs">5-year PFS,</text>
<text x="488.30" y="244.20" font-size="6.5" stroke="#ffffff" stroke-width="0.03" font-weight="bold" text-anchor="middle" fill="#ffffff" textLength="31.24" lengthAdjust="spacingAndGlyphs">% (95% CI)</text>
<text x="275.80" y="260.10" font-size="6.4" stroke="#231f20" stroke-width="0.06" textLength="15.19" lengthAdjust="spacingAndGlyphs">VenR</text>
<text x="275.80" y="281.10" font-size="6.4" stroke="#231f20" stroke-width="0.06" textLength="8.62" lengthAdjust="spacingAndGlyphs">BR</text>
<text x="295.70" y="255.20" font-size="6.4" stroke="#231f20" stroke-width="0.06" textLength="34.50" lengthAdjust="spacingAndGlyphs">unmut-IGHV</text>
<text x="364.50" y="255.20" font-size="6.4" stroke="#231f20" stroke-width="0.06" text-anchor="middle" textLength="45.56" lengthAdjust="spacingAndGlyphs">52.2 (44.1, 53.8)</text>
<text x="428.30" y="255.20" font-size="6.4" stroke="#231f20" stroke-width="0.06" text-anchor="middle" textLength="47.28" lengthAdjust="spacingAndGlyphs">2.96 (1.64, 5.34);</text>
<text x="488.30" y="255.20" font-size="6.4" stroke="#231f20" stroke-width="0.06" text-anchor="middle" textLength="45.56" lengthAdjust="spacingAndGlyphs">28.7 (18.5, 38.9)</text>
<text x="295.70" y="265.90" font-size="6.4" stroke="#231f20" stroke-width="0.06" textLength="27.59" lengthAdjust="spacingAndGlyphs">mut-IGHV</text>
<text x="364.50" y="265.90" font-size="6.4" stroke="#231f20" stroke-width="0.06" text-anchor="middle" textLength="8.62" lengthAdjust="spacingAndGlyphs">NE</text>
<text x="428.30" y="265.90" font-size="6.4" stroke="#231f20" stroke-width="0.06" text-anchor="middle" textLength="15.54" lengthAdjust="spacingAndGlyphs">.0002</text>
<text x="488.30" y="265.90" font-size="6.4" stroke="#231f20" stroke-width="0.06" text-anchor="middle" textLength="45.56" lengthAdjust="spacingAndGlyphs">72.7 (59.7, 85.6)</text>
<text x="295.70" y="275.70" font-size="6.4" stroke="#231f20" stroke-width="0.06" textLength="34.50" lengthAdjust="spacingAndGlyphs">unmut-IGHV</text>
<text x="364.50" y="275.70" font-size="6.4" stroke="#231f20" stroke-width="0.06" text-anchor="middle" textLength="45.56" lengthAdjust="spacingAndGlyphs">15.7 (13.4, 17.3)</text>
<text x="428.30" y="275.70" font-size="6.4" stroke="#231f20" stroke-width="0.06" text-anchor="middle" textLength="47.28" lengthAdjust="spacingAndGlyphs">1.79 (1.24, 2.58);</text>
<text x="488.30" y="275.70" font-size="6.4" stroke="#231f20" stroke-width="0.06" text-anchor="middle" textLength="8.62" lengthAdjust="spacingAndGlyphs">NE</text>
<text x="295.70" y="285.50" font-size="6.4" stroke="#231f20" stroke-width="0.06" textLength="27.59" lengthAdjust="spacingAndGlyphs">mut-IGHV</text>
<text x="364.50" y="285.50" font-size="6.4" stroke="#231f20" stroke-width="0.06" text-anchor="middle" textLength="45.56" lengthAdjust="spacingAndGlyphs">24.2 (18.6, 32.8)</text>
<text x="428.30" y="285.50" font-size="6.4" stroke="#231f20" stroke-width="0.06" text-anchor="middle" textLength="15.54" lengthAdjust="spacingAndGlyphs">.0015</text>
<text x="488.30" y="285.50" font-size="6.4" stroke="#231f20" stroke-width="0.06" text-anchor="middle" textLength="8.62" lengthAdjust="spacingAndGlyphs">NE</text>
<text x="7.00" y="310.60" font-size="11.8" stroke="#231f20" stroke-width="0.3" font-weight="bold">C</text>
<line x1="104.90" y1="314.70" x2="113.00" y2="314.70" stroke="#1a4b87" stroke-width="1.5"/>
<text x="116.20" y="317.60" font-size="8" stroke="#231f20" stroke-width="0.15" textLength="128.25" lengthAdjust="spacingAndGlyphs">VenR del(17p) and/or <tspan font-style="italic">TP53</tspan>-mut, n = 53</text>
<line x1="104.90" y1="325.50" x2="113.00" y2="325.50" stroke="#1a4b87" stroke-width="1.5" stroke-dasharray="1.8,1.6"/>
<text x="116.20" y="328.40" font-size="8" stroke="#231f20" stroke-width="0.15" textLength="132.32" lengthAdjust="spacingAndGlyphs">VenR no del(17p) and <tspan font-style="italic">TP53</tspan>-WT, n = 104</text>
<line x1="104.90" y1="335.90" x2="113.00" y2="335.90" stroke="#c8102e" stroke-width="1.5"/>
<text x="116.20" y="338.80" font-size="8" stroke="#231f20" stroke-width="0.15" textLength="120.51" lengthAdjust="spacingAndGlyphs">BR del(17p) and/or <tspan font-style="italic">TP53</tspan>-mut, n = 55</text>
<line x1="104.90" y1="346.50" x2="113.00" y2="346.50" stroke="#c8102e" stroke-width="1.5" stroke-dasharray="1.8,1.6"/>
<text x="116.20" y="349.40" font-size="8" stroke="#231f20" stroke-width="0.15" textLength="120.51" lengthAdjust="spacingAndGlyphs">BR no del(17p) and <tspan font-style="italic">TP53</tspan>-WT, n = 98</text>
<line x1="37.50" y1="345.20" x2="37.50" y2="441.60" stroke="#231f20" stroke-width="1.1"/>
<line x1="34.50" y1="438.10" x2="249.00" y2="438.10" stroke="#231f20" stroke-width="1.1"/>
<line x1="34.50" y1="420.32" x2="37.50" y2="420.32" stroke="#231f20" stroke-width="1"/>
<line x1="34.50" y1="402.54" x2="37.50" y2="402.54" stroke="#231f20" stroke-width="1"/>
<line x1="34.50" y1="384.76" x2="37.50" y2="384.76" stroke="#231f20" stroke-width="1"/>
<line x1="34.50" y1="366.98" x2="37.50" y2="366.98" stroke="#231f20" stroke-width="1"/>
<line x1="34.50" y1="349.20" x2="37.50" y2="349.20" stroke="#231f20" stroke-width="1"/>
<text x="31.80" y="440.80" font-size="8.8" stroke="#231f20" stroke-width="0.05" text-anchor="end" textLength="4.23" lengthAdjust="spacingAndGlyphs">0</text>
<text x="31.80" y="423.02" font-size="8.8" stroke="#231f20" stroke-width="0.05" text-anchor="end" textLength="8.46" lengthAdjust="spacingAndGlyphs">20</text>
<text x="31.80" y="405.24" font-size="8.8" stroke="#231f20" stroke-width="0.05" text-anchor="end" textLength="8.46" lengthAdjust="spacingAndGlyphs">40</text>
<text x="31.80" y="387.46" font-size="8.8" stroke="#231f20" stroke-width="0.05" text-anchor="end" textLength="8.46" lengthAdjust="spacingAndGlyphs">60</text>
<text x="31.80" y="369.68" font-size="8.8" stroke="#231f20" stroke-width="0.05" text-anchor="end" textLength="8.46" lengthAdjust="spacingAndGlyphs">80</text>
<text x="31.80" y="351.90" font-size="8.8" stroke="#231f20" stroke-width="0.05" text-anchor="end" textLength="12.69" lengthAdjust="spacingAndGlyphs">100</text>
<line x1="37.40" y1="438.10" x2="37.40" y2="441.10" stroke="#231f20" stroke-width="1"/>
<text x="37.40" y="450.40" font-size="8.8" stroke="#231f20" stroke-width="0.05" text-anchor="middle" textLength="4.09" lengthAdjust="spacingAndGlyphs">0</text>
<line x1="55.43" y1="438.10" x2="55.43" y2="441.10" stroke="#231f20" stroke-width="1"/>
<text x="55.43" y="450.40" font-size="8.8" stroke="#231f20" stroke-width="0.05" text-anchor="middle" textLength="4.09" lengthAdjust="spacingAndGlyphs">6</text>
<line x1="74.32" y1="438.10" x2="74.32" y2="441.10" stroke="#231f20" stroke-width="1"/>
<text x="74.32" y="450.40" font-size="8.8" stroke="#231f20" stroke-width="0.05" text-anchor="middle" textLength="8.18" lengthAdjust="spacingAndGlyphs">12</text>
<line x1="93.21" y1="438.10" x2="93.21" y2="441.10" stroke="#231f20" stroke-width="1"/>
<text x="93.21" y="450.40" font-size="8.8" stroke="#231f20" stroke-width="0.05" text-anchor="middle" textLength="8.18" lengthAdjust="spacingAndGlyphs">18</text>
<line x1="112.10" y1="438.10" x2="112.10" y2="441.10" stroke="#231f20" stroke-width="1"/>
<text x="112.10" y="450.40" font-size="8.8" stroke="#231f20" stroke-width="0.05" text-anchor="middle" textLength="8.18" lengthAdjust="spacingAndGlyphs">24</text>
<line x1="130.99" y1="438.10" x2="130.99" y2="441.10" stroke="#231f20" stroke-width="1"/>
<text x="130.99" y="450.40" font-size="8.8" stroke="#231f20" stroke-width="0.05" text-anchor="middle" textLength="8.18" lengthAdjust="spacingAndGlyphs">30</text>
<line x1="149.88" y1="438.10" x2="149.88" y2="441.10" stroke="#231f20" stroke-width="1"/>
<text x="149.88" y="450.40" font-size="8.8" stroke="#231f20" stroke-width="0.05" text-anchor="middle" textLength="8.18" lengthAdjust="spacingAndGlyphs">36</text>
<line x1="168.77" y1="438.10" x2="168.77" y2="441.10" stroke="#231f20" stroke-width="1"/>
<text x="168.77" y="450.40" font-size="8.8" stroke="#231f20" stroke-width="0.05" text-anchor="middle" textLength="8.18" lengthAdjust="spacingAndGlyphs">42</text>
<line x1="187.66" y1="438.10" x2="187.66" y2="441.10" stroke="#231f20" stroke-width="1"/>
<text x="187.66" y="450.40" font-size="8.8" stroke="#231f20" stroke-width="0.05" text-anchor="middle" textLength="8.18" lengthAdjust="spacingAndGlyphs">48</text>
<line x1="206.55" y1="438.10" x2="206.55" y2="441.10" stroke="#231f20" stroke-width="1"/>
<text x="206.55" y="450.40" font-size="8.8" stroke="#231f20" stroke-width="0.05" text-anchor="middle" textLength="8.18" lengthAdjust="spacingAndGlyphs">54</text>
<line x1="225.44" y1="438.10" x2="225.44" y2="441.10" stroke="#231f20" stroke-width="1"/>
<text x="225.44" y="450.40" font-size="8.8" stroke="#231f20" stroke-width="0.05" text-anchor="middle" textLength="8.18" lengthAdjust="spacingAndGlyphs">60</text>
<line x1="244.33" y1="438.10" x2="244.33" y2="441.10" stroke="#231f20" stroke-width="1"/>
<text x="244.33" y="450.40" font-size="8.8" stroke="#231f20" stroke-width="0.05" text-anchor="middle" textLength="8.18" lengthAdjust="spacingAndGlyphs">66</text>
<text transform="translate(15.8,394) rotate(-90)" font-size="9.6" text-anchor="middle" stroke="#231f20" stroke-width="0.2" textLength="24.5" lengthAdjust="spacingAndGlyphs">PFS (%)</text>
<text x="141.00" y="462.20" font-size="9.4" stroke="#231f20" stroke-width="0.15" text-anchor="middle" textLength="47.40" lengthAdjust="spacingAndGlyphs">Time (months)</text>
<text x="19.00" y="474.40" font-size="9" stroke="#231f20" stroke-width="0.15" textLength="76.50" lengthAdjust="spacingAndGlyphs">No. of patients at risk</text>
<line x1="19.00" y1="484.10" x2="27.10" y2="484.10" stroke="#1a4b87" stroke-width="1.5"/>
<text x="37.40" y="486.60" font-size="9" stroke="#231f20" stroke-width="0.15" text-anchor="middle" textLength="8.31" lengthAdjust="spacingAndGlyphs">53</text>
<text x="55.43" y="486.60" font-size="9" stroke="#231f20" stroke-width="0.15" text-anchor="middle" textLength="8.31" lengthAdjust="spacingAndGlyphs">47</text>
<text x="74.32" y="486.60" font-size="9" stroke="#231f20" stroke-width="0.15" text-anchor="middle" textLength="8.31" lengthAdjust="spacingAndGlyphs">44</text>
<text x="93.21" y="486.60" font-size="9" stroke="#231f20" stroke-width="0.15" text-anchor="middle" textLength="8.31" lengthAdjust="spacingAndGlyphs">43</text>
<text x="112.10" y="486.60" font-size="9" stroke="#231f20" stroke-width="0.15" text-anchor="middle" textLength="8.31" lengthAdjust="spacingAndGlyphs">37</text>
<text x="130.99" y="486.60" font-size="9" stroke="#231f20" stroke-width="0.15" text-anchor="middle" textLength="8.31" lengthAdjust="spacingAndGlyphs">30</text>
<text x="149.88" y="486.60" font-size="9" stroke="#231f20" stroke-width="0.15" text-anchor="middle" textLength="8.31" lengthAdjust="spacingAndGlyphs">27</text>
<text x="168.77" y="486.60" font-size="9" stroke="#231f20" stroke-width="0.15" text-anchor="middle" textLength="8.31" lengthAdjust="spacingAndGlyphs">23</text>
<text x="187.66" y="486.60" font-size="9" stroke="#231f20" stroke-width="0.15" text-anchor="middle" textLength="8.31" lengthAdjust="spacingAndGlyphs">19</text>
<text x="206.55" y="486.60" font-size="9" stroke="#231f20" stroke-width="0.15" text-anchor="middle" textLength="8.31" lengthAdjust="spacingAndGlyphs">12</text>
<text x="225.44" y="486.60" font-size="9" stroke="#231f20" stroke-width="0.15" text-anchor="middle" textLength="4.15" lengthAdjust="spacingAndGlyphs">4</text>
<text x="244.33" y="486.60" font-size="9" stroke="#231f20" stroke-width="0.15" text-anchor="middle" textLength="4.15" lengthAdjust="spacingAndGlyphs">1</text>
<line x1="19.00" y1="494.70" x2="27.10" y2="494.70" stroke="#1a4b87" stroke-width="1.5" stroke-dasharray="1.8,1.6"/>
<text x="37.40" y="497.20" font-size="9" stroke="#231f20" stroke-width="0.15" text-anchor="middle" textLength="12.46" lengthAdjust="spacingAndGlyphs">104</text>
<text x="55.43" y="497.20" font-size="9" stroke="#231f20" stroke-width="0.15" text-anchor="middle" textLength="12.46" lengthAdjust="spacingAndGlyphs">102</text>
<text x="74.32" y="497.20" font-size="9" stroke="#231f20" stroke-width="0.15" text-anchor="middle" textLength="8.31" lengthAdjust="spacingAndGlyphs">99</text>
<text x="93.21" y="497.20" font-size="9" stroke="#231f20" stroke-width="0.15" text-anchor="middle" textLength="8.31" lengthAdjust="spacingAndGlyphs">97</text>
<text x="112.10" y="497.20" font-size="9" stroke="#231f20" stroke-width="0.15" text-anchor="middle" textLength="8.31" lengthAdjust="spacingAndGlyphs">94</text>
<text x="130.99" y="497.20" font-size="9" stroke="#231f20" stroke-width="0.15" text-anchor="middle" textLength="8.31" lengthAdjust="spacingAndGlyphs">86</text>
<text x="149.88" y="497.20" font-size="9" stroke="#231f20" stroke-width="0.15" text-anchor="middle" textLength="8.31" lengthAdjust="spacingAndGlyphs">82</text>
<text x="168.77" y="497.20" font-size="9" stroke="#231f20" stroke-width="0.15" text-anchor="middle" textLength="8.31" lengthAdjust="spacingAndGlyphs">71</text>
<text x="187.66" y="497.20" font-size="9" stroke="#231f20" stroke-width="0.15" text-anchor="middle" textLength="8.31" lengthAdjust="spacingAndGlyphs">61</text>
<text x="206.55" y="497.20" font-size="9" stroke="#231f20" stroke-width="0.15" text-anchor="middle" textLength="8.31" lengthAdjust="spacingAndGlyphs">36</text>
<text x="225.44" y="497.20" font-size="9" stroke="#231f20" stroke-width="0.15" text-anchor="middle" textLength="4.15" lengthAdjust="spacingAndGlyphs">7</text>
<line x1="19.00" y1="505.20" x2="27.10" y2="505.20" stroke="#c8102e" stroke-width="1.5"/>
<text x="37.40" y="507.70" font-size="9" stroke="#231f20" stroke-width="0.15" text-anchor="middle" textLength="8.31" lengthAdjust="spacingAndGlyphs">55</text>
<text x="55.43" y="507.70" font-size="9" stroke="#231f20" stroke-width="0.15" text-anchor="middle" textLength="8.31" lengthAdjust="spacingAndGlyphs">40</text>
<text x="74.32" y="507.70" font-size="9" stroke="#231f20" stroke-width="0.15" text-anchor="middle" textLength="8.31" lengthAdjust="spacingAndGlyphs">26</text>
<text x="93.21" y="507.70" font-size="9" stroke="#231f20" stroke-width="0.15" text-anchor="middle" textLength="8.31" lengthAdjust="spacingAndGlyphs">15</text>
<text x="112.10" y="507.70" font-size="9" stroke="#231f20" stroke-width="0.15" text-anchor="middle" textLength="7.75" lengthAdjust="spacingAndGlyphs">11</text>
<text x="130.99" y="507.70" font-size="9" stroke="#231f20" stroke-width="0.15" text-anchor="middle" textLength="4.15" lengthAdjust="spacingAndGlyphs">5</text>
<text x="149.88" y="507.70" font-size="9" stroke="#231f20" stroke-width="0.15" text-anchor="middle" textLength="4.15" lengthAdjust="spacingAndGlyphs">4</text>
<text x="168.77" y="507.70" font-size="9" stroke="#231f20" stroke-width="0.15" text-anchor="middle" textLength="4.15" lengthAdjust="spacingAndGlyphs">3</text>
<text x="187.66" y="507.70" font-size="9" stroke="#231f20" stroke-width="0.15" text-anchor="middle" textLength="4.15" lengthAdjust="spacingAndGlyphs">3</text>
<text x="206.55" y="507.70" font-size="9" stroke="#231f20" stroke-width="0.15" text-anchor="middle" textLength="4.15" lengthAdjust="spacingAndGlyphs">1</text>
<line x1="19.00" y1="515.70" x2="27.10" y2="515.70" stroke="#c8102e" stroke-width="1.5" stroke-dasharray="1.8,1.6"/>
<text x="37.40" y="518.20" font-size="9" stroke="#231f20" stroke-width="0.15" text-anchor="middle" textLength="8.31" lengthAdjust="spacingAndGlyphs">98</text>
<text x="55.43" y="518.20" font-size="9" stroke="#231f20" stroke-width="0.15" text-anchor="middle" textLength="8.31" lengthAdjust="spacingAndGlyphs">87</text>
<text x="74.32" y="518.20" font-size="9" stroke="#231f20" stroke-width="0.15" text-anchor="middle" textLength="8.31" lengthAdjust="spacingAndGlyphs">71</text>
<text x="93.21" y="518.20" font-size="9" stroke="#231f20" stroke-width="0.15" text-anchor="middle" textLength="8.31" lengthAdjust="spacingAndGlyphs">48</text>
<text x="112.10" y="518.20" font-size="9" stroke="#231f20" stroke-width="0.15" text-anchor="middle" textLength="8.31" lengthAdjust="spacingAndGlyphs">40</text>
<text x="130.99" y="518.20" font-size="9" stroke="#231f20" stroke-width="0.15" text-anchor="middle" textLength="8.31" lengthAdjust="spacingAndGlyphs">31</text>
<text x="149.88" y="518.20" font-size="9" stroke="#231f20" stroke-width="0.15" text-anchor="middle" textLength="8.31" lengthAdjust="spacingAndGlyphs">19</text>
<text x="168.77" y="518.20" font-size="9" stroke="#231f20" stroke-width="0.15" text-anchor="middle" textLength="8.31" lengthAdjust="spacingAndGlyphs">12</text>
<text x="187.66" y="518.20" font-size="9" stroke="#231f20" stroke-width="0.15" text-anchor="middle" textLength="4.15" lengthAdjust="spacingAndGlyphs">5</text>
<text x="206.55" y="518.20" font-size="9" stroke="#231f20" stroke-width="0.15" text-anchor="middle" textLength="4.15" lengthAdjust="spacingAndGlyphs">1</text>
<polyline points="37.5,349.1 45.2,351.4 62.2,351.8 80.6,352.2 85.2,353.7 86.8,354.5 108.3,355.2 110.0,356.2 113.1,356.9 117.7,362.3 125.4,363.8 136.2,364.6 139.2,366.2 150.0,366.9 160.8,370.8 168.5,373.8 174.6,376.9 180.0,376.9 189.2,378.9 190.0,383.8 201.5,384.2 204.6,386.9 207.7,390.8 210.8,393.1 218.5,394.3 223.1,394.6 226.2,400.8 241.5,401.5" fill="none" stroke="#1a4b87" stroke-width="1.3" stroke-dasharray="3,1.6"/>
<polyline points="37.5,349.1 43.7,352.2 49.1,355.2 49.8,358.3 56.0,359.1 63.7,360.6 68.3,361.7 92.9,361.7 94.5,363.7 100.6,364.2 102.2,366.8 111.4,367.2 112.3,368.5 113.1,373.8 116.2,375.4 123.1,376.2 126.2,378.5 130.0,381.5 131.5,386.2 133.1,387.7 138.5,387.7 139.2,391.5 150.8,391.8 154.6,393.8 162.3,394.9 167.7,395.4 171.5,397.7 172.3,400.0 188.5,400.5 189.2,402.3 202.3,402.3 203.1,406.2 207.7,408.5 212.3,414.6 240.0,414.6 240.8,426.2 246.9,426.6" fill="none" stroke="#1a4b87" stroke-width="1.3"/>
<polyline points="37.5,349.1 45.2,352.9 54.5,355.2 56.0,361.4 60.6,369.1 61.5,373.1 63.1,381.5 67.7,382.3 72.3,386.2 76.9,389.2 80.0,396.9 83.8,403.1 89.2,409.2 99.2,409.7 100.0,411.2 110.0,411.2 111.5,416.2 116.2,420.0 121.5,421.5 127.7,428.5 136.9,428.8 139.2,431.0 151.3,431.0 151.9,432.5 188.5,432.5 189.2,434.3 206.9,434.6 207.7,437.2" fill="none" stroke="#c8102e" stroke-width="1.3"/>
<polyline points="37.5,349.1 49.8,352.9 60.6,356.8 66.8,361.4 72.9,367.5 77.5,372.2 79.2,373.8 81.5,380.0 86.9,381.5 90.8,386.9 94.6,391.5 100.0,394.6 109.2,397.7 113.8,400.0 118.5,403.8 127.7,404.6 132.3,407.7 140.4,411.1 142.7,414.6 146.1,417.5 153.1,419.2 157.7,421.0 161.1,422.7 169.2,423.3 171.5,425.6 176.1,427.3 185.4,427.9 186.2,431.5 207.7,433.4 208.5,437.2 224.6,437.2" fill="none" stroke="#c8102e" stroke-width="1.3" stroke-dasharray="3,1.6"/>
<rect x="12" y="525.3" width="240" height="19.900000000000045" fill="#144f83"/>
<rect x="12" y="546.3000000000001" width="240" height="40.14999999999998" fill="#dae3ec"/>
<line x1="31.50" y1="546.30" x2="31.50" y2="586.45" stroke="#eef2f6" stroke-width="1"/>
<line x1="12.00" y1="566.00" x2="31.50" y2="566.00" stroke="#eef2f6" stroke-width="1"/>
<text x="14.80" y="541.70" font-size="6.5" stroke="#ffffff" stroke-width="0.03" font-weight="bold" fill="#ffffff" textLength="26.48" lengthAdjust="spacingAndGlyphs">Category</text>
<text x="130.30" y="533.70" font-size="6.5" stroke="#ffffff" stroke-width="0.03" font-weight="bold" text-anchor="middle" fill="#ffffff" textLength="36.33" lengthAdjust="spacingAndGlyphs">Median PFS,</text>
<text x="130.30" y="541.70" font-size="6.5" stroke="#ffffff" stroke-width="0.03" font-weight="bold" text-anchor="middle" fill="#ffffff" textLength="47.87" lengthAdjust="spacingAndGlyphs">months (95% CI)</text>
<text x="179.80" y="533.70" font-size="6.5" stroke="#ffffff" stroke-width="0.03" font-weight="bold" text-anchor="middle" fill="#ffffff" textLength="36.66" lengthAdjust="spacingAndGlyphs">HR (95% CI);</text>
<text x="179.80" y="541.70" font-size="6.5" stroke="#ffffff" stroke-width="0.03" font-weight="bold" text-anchor="middle" fill="#ffffff" textLength="24.68" lengthAdjust="spacingAndGlyphs"><tspan font-style="italic">P</tspan> value<tspan font-size="4.6" dy="-1.6">†</tspan></text>
<text x="229.00" y="533.70" font-size="6.5" stroke="#ffffff" stroke-width="0.03" font-weight="bold" text-anchor="middle" fill="#ffffff" textLength="33.28" lengthAdjust="spacingAndGlyphs">5-year PFS,</text>
<text x="229.00" y="541.70" font-size="6.5" stroke="#ffffff" stroke-width="0.03" font-weight="bold" text-anchor="middle" fill="#ffffff" textLength="31.24" lengthAdjust="spacingAndGlyphs">% (95% CI)</text>
<text x="14.80" y="557.60" font-size="6.4" stroke="#231f20" stroke-width="0.06" textLength="15.19" lengthAdjust="spacingAndGlyphs">VenR</text>
<text x="14.80" y="578.60" font-size="6.4" stroke="#231f20" stroke-width="0.06" textLength="8.62" lengthAdjust="spacingAndGlyphs">BR</text>
<text x="34.50" y="552.70" font-size="6.4" stroke="#231f20" stroke-width="0.06" textLength="68.60" lengthAdjust="spacingAndGlyphs">del(17p) and/or <tspan font-style="italic">TP53</tspan>-mut</text>
<text x="130.30" y="552.70" font-size="6.4" stroke="#231f20" stroke-width="0.06" text-anchor="middle" textLength="45.56" lengthAdjust="spacingAndGlyphs">37.4 (29.4, 52.3)</text>
<text x="179.80" y="552.70" font-size="6.4" stroke="#231f20" stroke-width="0.06" text-anchor="middle" textLength="47.28" lengthAdjust="spacingAndGlyphs">2.04 (1.32, 3.15);</text>
<text x="229.00" y="552.70" font-size="6.4" stroke="#231f20" stroke-width="0.06" text-anchor="middle" textLength="45.56" lengthAdjust="spacingAndGlyphs">27.3 (13.6, 41.0)</text>
<text x="34.50" y="563.40" font-size="6.4" stroke="#231f20" stroke-width="0.06" textLength="69.30" lengthAdjust="spacingAndGlyphs">No del(17p) and <tspan font-style="italic">TP53</tspan>-WT</text>
<text x="130.30" y="563.40" font-size="6.4" stroke="#231f20" stroke-width="0.06" text-anchor="middle" textLength="42.10" lengthAdjust="spacingAndGlyphs">56.6 (53.0, NE)</text>
<text x="179.80" y="563.40" font-size="6.4" stroke="#231f20" stroke-width="0.06" text-anchor="middle" textLength="15.54" lengthAdjust="spacingAndGlyphs">.0010</text>
<text x="229.00" y="563.40" font-size="6.4" stroke="#231f20" stroke-width="0.06" text-anchor="middle" textLength="45.56" lengthAdjust="spacingAndGlyphs">42.5 (28.9, 56.0)</text>
<text x="34.50" y="573.20" font-size="6.4" stroke="#231f20" stroke-width="0.06" textLength="68.60" lengthAdjust="spacingAndGlyphs">del(17p) and/or <tspan font-style="italic">TP53</tspan>-mut</text>
<text x="130.30" y="573.20" font-size="6.4" stroke="#231f20" stroke-width="0.06" text-anchor="middle" textLength="42.10" lengthAdjust="spacingAndGlyphs">13.4 (8.0, 15.8)</text>
<text x="179.80" y="573.20" font-size="6.4" stroke="#231f20" stroke-width="0.06" text-anchor="middle" textLength="47.28" lengthAdjust="spacingAndGlyphs">1.67 (1.15, 2.40);</text>
<text x="229.00" y="573.20" font-size="6.4" stroke="#231f20" stroke-width="0.06" text-anchor="middle" textLength="8.62" lengthAdjust="spacingAndGlyphs">NE</text>
<text x="34.50" y="583.00" font-size="6.4" stroke="#231f20" stroke-width="0.06" textLength="69.30" lengthAdjust="spacingAndGlyphs">No del(17p) and <tspan font-style="italic">TP53</tspan>-WT</text>
<text x="130.30" y="583.00" font-size="6.4" stroke="#231f20" stroke-width="0.06" text-anchor="middle" textLength="45.56" lengthAdjust="spacingAndGlyphs">19.6 (16.4, 25.4)</text>
<text x="179.80" y="583.00" font-size="6.4" stroke="#231f20" stroke-width="0.06" text-anchor="middle" textLength="15.54" lengthAdjust="spacingAndGlyphs">.0059</text>
<text x="229.00" y="583.00" font-size="6.4" stroke="#231f20" stroke-width="0.06" text-anchor="middle" textLength="8.62" lengthAdjust="spacingAndGlyphs">NE</text>
<text x="270.00" y="310.60" font-size="11.3" stroke="#231f20" stroke-width="0.3" font-weight="bold">D</text>
<line x1="399.50" y1="314.30" x2="407.50" y2="314.30" stroke="#1a4b87" stroke-width="1.5"/>
<text x="411.25" y="317.20" font-size="8" stroke="#231f20" stroke-width="0.15" textLength="87.63" lengthAdjust="spacingAndGlyphs">VenR GC (CNA ≥3), n = 48</text>
<line x1="399.50" y1="325.50" x2="407.50" y2="325.50" stroke="#1a4b87" stroke-width="1.5" stroke-dasharray="1.8,1.6"/>
<text x="411.25" y="328.40" font-size="8" stroke="#231f20" stroke-width="0.15" textLength="97.80" lengthAdjust="spacingAndGlyphs">VenR no GC (CNA ≤2), n = 94</text>
<line x1="399.50" y1="335.80" x2="407.50" y2="335.80" stroke="#c8102e" stroke-width="1.5"/>
<text x="411.25" y="338.70" font-size="8" stroke="#231f20" stroke-width="0.15" textLength="79.89" lengthAdjust="spacingAndGlyphs">BR GC (CNA ≥3), n = 46</text>
<line x1="399.50" y1="347.00" x2="407.50" y2="347.00" stroke="#c8102e" stroke-width="1.5" stroke-dasharray="1.8,1.6"/>
<text x="411.25" y="349.90" font-size="8" stroke="#231f20" stroke-width="0.15" textLength="94.13" lengthAdjust="spacingAndGlyphs">BR no GC (CNA ≤2), n = 100</text>
<line x1="297.60" y1="345.20" x2="297.60" y2="441.60" stroke="#231f20" stroke-width="1.1"/>
<line x1="294.60" y1="438.10" x2="504.80" y2="438.10" stroke="#231f20" stroke-width="1.1"/>
<line x1="294.60" y1="420.32" x2="297.60" y2="420.32" stroke="#231f20" stroke-width="1"/>
<line x1="294.60" y1="402.54" x2="297.60" y2="402.54" stroke="#231f20" stroke-width="1"/>
<line x1="294.60" y1="384.76" x2="297.60" y2="384.76" stroke="#231f20" stroke-width="1"/>
<line x1="294.60" y1="366.98" x2="297.60" y2="366.98" stroke="#231f20" stroke-width="1"/>
<line x1="294.60" y1="349.20" x2="297.60" y2="349.20" stroke="#231f20" stroke-width="1"/>
<text x="291.90" y="440.80" font-size="8.8" stroke="#231f20" stroke-width="0.05" text-anchor="end" textLength="4.23" lengthAdjust="spacingAndGlyphs">0</text>
<text x="291.90" y="423.02" font-size="8.8" stroke="#231f20" stroke-width="0.05" text-anchor="end" textLength="8.46" lengthAdjust="spacingAndGlyphs">20</text>
<text x="291.90" y="405.24" font-size="8.8" stroke="#231f20" stroke-width="0.05" text-anchor="end" textLength="8.46" lengthAdjust="spacingAndGlyphs">40</text>
<text x="291.90" y="387.46" font-size="8.8" stroke="#231f20" stroke-width="0.05" text-anchor="end" textLength="8.46" lengthAdjust="spacingAndGlyphs">60</text>
<text x="291.90" y="369.68" font-size="8.8" stroke="#231f20" stroke-width="0.05" text-anchor="end" textLength="8.46" lengthAdjust="spacingAndGlyphs">80</text>
<text x="291.90" y="351.90" font-size="8.8" stroke="#231f20" stroke-width="0.05" text-anchor="end" textLength="12.69" lengthAdjust="spacingAndGlyphs">100</text>
<line x1="297.40" y1="438.10" x2="297.40" y2="441.10" stroke="#231f20" stroke-width="1"/>
<text x="297.40" y="450.40" font-size="8.8" stroke="#231f20" stroke-width="0.05" text-anchor="middle" textLength="4.09" lengthAdjust="spacingAndGlyphs">0</text>
<line x1="363.17" y1="438.10" x2="363.17" y2="441.10" stroke="#231f20" stroke-width="1"/>
<text x="363.17" y="450.40" font-size="8.8" stroke="#231f20" stroke-width="0.05" text-anchor="middle" textLength="8.18" lengthAdjust="spacingAndGlyphs">20</text>
<line x1="428.94" y1="438.10" x2="428.94" y2="441.10" stroke="#231f20" stroke-width="1"/>
<text x="428.94" y="450.40" font-size="8.8" stroke="#231f20" stroke-width="0.05" text-anchor="middle" textLength="8.18" lengthAdjust="spacingAndGlyphs">40</text>
<line x1="494.71" y1="438.10" x2="494.71" y2="441.10" stroke="#231f20" stroke-width="1"/>
<text x="494.71" y="450.40" font-size="8.8" stroke="#231f20" stroke-width="0.05" text-anchor="middle" textLength="8.18" lengthAdjust="spacingAndGlyphs">60</text>
<text transform="translate(275.8,394) rotate(-90)" font-size="9.6" text-anchor="middle" stroke="#231f20" stroke-width="0.2" textLength="24.5" lengthAdjust="spacingAndGlyphs">PFS (%)</text>
<text x="401.50" y="462.20" font-size="9.4" stroke="#231f20" stroke-width="0.15" text-anchor="middle" textLength="47.40" lengthAdjust="spacingAndGlyphs">Time (months)</text>
<text x="279.50" y="474.40" font-size="9" stroke="#231f20" stroke-width="0.15" textLength="76.50" lengthAdjust="spacingAndGlyphs">No. of patients at risk</text>
<line x1="280.00" y1="484.10" x2="288.10" y2="484.10" stroke="#1a4b87" stroke-width="1.5"/>
<text x="297.40" y="486.60" font-size="9" stroke="#231f20" stroke-width="0.15" text-anchor="middle" textLength="8.31" lengthAdjust="spacingAndGlyphs">48</text>
<text x="363.17" y="486.60" font-size="9" stroke="#231f20" stroke-width="0.15" text-anchor="middle" textLength="8.31" lengthAdjust="spacingAndGlyphs">42</text>
<text x="428.94" y="486.60" font-size="9" stroke="#231f20" stroke-width="0.15" text-anchor="middle" textLength="8.31" lengthAdjust="spacingAndGlyphs">24</text>
<text x="494.71" y="486.60" font-size="9" stroke="#231f20" stroke-width="0.15" text-anchor="middle" textLength="4.15" lengthAdjust="spacingAndGlyphs">1</text>
<line x1="280.00" y1="494.70" x2="288.10" y2="494.70" stroke="#1a4b87" stroke-width="1.5" stroke-dasharray="1.8,1.6"/>
<text x="297.40" y="497.20" font-size="9" stroke="#231f20" stroke-width="0.15" text-anchor="middle" textLength="8.31" lengthAdjust="spacingAndGlyphs">94</text>
<text x="363.17" y="497.20" font-size="9" stroke="#231f20" stroke-width="0.15" text-anchor="middle" textLength="8.31" lengthAdjust="spacingAndGlyphs">85</text>
<text x="428.94" y="497.20" font-size="9" stroke="#231f20" stroke-width="0.15" text-anchor="middle" textLength="8.31" lengthAdjust="spacingAndGlyphs">69</text>
<text x="494.71" y="497.20" font-size="9" stroke="#231f20" stroke-width="0.15" text-anchor="middle" textLength="4.15" lengthAdjust="spacingAndGlyphs">9</text>
<line x1="280.00" y1="505.20" x2="288.10" y2="505.20" stroke="#c8102e" stroke-width="1.5"/>
<text x="297.40" y="507.70" font-size="9" stroke="#231f20" stroke-width="0.15" text-anchor="middle" textLength="8.31" lengthAdjust="spacingAndGlyphs">46</text>
<text x="363.17" y="507.70" font-size="9" stroke="#231f20" stroke-width="0.15" text-anchor="middle" textLength="8.31" lengthAdjust="spacingAndGlyphs">13</text>
<text x="428.94" y="507.70" font-size="9" stroke="#231f20" stroke-width="0.15" text-anchor="middle" textLength="4.15" lengthAdjust="spacingAndGlyphs">1</text>
<text x="494.71" y="507.70" font-size="9" stroke="#231f20" stroke-width="0.15" text-anchor="middle" textLength="4.15" lengthAdjust="spacingAndGlyphs">0</text>
<line x1="280.00" y1="515.70" x2="288.10" y2="515.70" stroke="#c8102e" stroke-width="1.5" stroke-dasharray="1.8,1.6"/>
<text x="297.40" y="518.20" font-size="9" stroke="#231f20" stroke-width="0.15" text-anchor="middle" textLength="12.46" lengthAdjust="spacingAndGlyphs">100</text>
<text x="363.17" y="518.20" font-size="9" stroke="#231f20" stroke-width="0.15" text-anchor="middle" textLength="8.31" lengthAdjust="spacingAndGlyphs">46</text>
<text x="428.94" y="518.20" font-size="9" stroke="#231f20" stroke-width="0.15" text-anchor="middle" textLength="8.31" lengthAdjust="spacingAndGlyphs">15</text>
<text x="494.71" y="518.20" font-size="9" stroke="#231f20" stroke-width="0.15" text-anchor="middle" textLength="4.15" lengthAdjust="spacingAndGlyphs">0</text>
<polyline points="297.5,349.1 305.2,349.8 309.8,352.2 314.5,354.5 316.0,355.5 348.3,355.5 349.1,357.1 355.2,357.5 356.0,359.5 372.9,359.5 375.4,360.0 377.7,363.1 381.5,368.5 393.8,368.5 395.4,373.1 402.3,377.7 412.3,378.0 416.2,381.5 423.1,382.3 428.5,388.5 433.1,391.5 437.7,397.7 440.0,400.4 442.7,402.4 455.5,402.4 456.2,406.8 468.9,406.8 471.0,409.5 474.3,411.8 475.7,416.5 477.7,419.2 478.4,422.9 504.7,422.9" fill="none" stroke="#1a4b87" stroke-width="1.3"/>
<polyline points="297.5,349.1 314.5,352.9 332.9,353.4 346.8,354.9 363.7,355.5 365.2,357.1 370.0,357.1 377.7,362.3 385.4,364.6 396.2,366.2 400.8,368.8 419.2,369.2 422.3,370.0 436.2,370.8 442.3,372.3 445.4,372.8 454.1,373.7 456.8,377.5 458.8,379.5 468.9,379.5 472.3,381.5 475.7,384.9 480.4,387.6 491.8,388.5 493.8,392.3 495.2,395.7 504.6,395.7" fill="none" stroke="#1a4b87" stroke-width="1.3" stroke-dasharray="3,1.6"/>
<polyline points="297.5,349.1 305.2,351.4 311.4,353.7 316.0,357.5 320.6,358.3 321.5,369.2 323.1,380.0 326.9,380.8 330.8,386.2 335.4,391.5 340.8,392.3 343.8,397.7 347.7,401.5 352.3,407.7 356.9,409.5 372.3,409.5 373.8,412.0 377.7,413.1 381.5,420.8 391.5,421.2 395.4,424.2 405.0,424.6 406.5,429.2 410.4,432.3 411.9,433.8 455.8,433.8 455.8,438.0" fill="none" stroke="#c8102e" stroke-width="1.3"/>
<polyline points="297.5,349.1 314.5,354.5 320.0,360.6 326.2,362.3 333.8,365.4 338.5,369.2 341.5,376.9 347.7,382.3 352.3,387.7 356.9,391.5 366.2,394.6 373.1,396.9 376.2,401.5 383.1,403.8 390.8,406.9 401.2,410.8 405.8,413.1 410.4,416.9 418.1,419.2 425.8,422.3 435.0,423.8 441.2,426.2 445.8,427.4 451.9,428.5 454.2,430.8 469.6,430.9 471.5,432.8 474.4,433.8 476.8,436.6 492.7,436.6" fill="none" stroke="#c8102e" stroke-width="1.3" stroke-dasharray="3,1.6"/>
<rect x="273" y="525.3" width="239.5" height="19.900000000000045" fill="#144f83"/>
<rect x="273" y="546.3000000000001" width="239.5" height="40.14999999999998" fill="#dae3ec"/>
<line x1="292.50" y1="546.30" x2="292.50" y2="586.45" stroke="#eef2f6" stroke-width="1"/>
<line x1="273.00" y1="566.00" x2="292.50" y2="566.00" stroke="#eef2f6" stroke-width="1"/>
<text x="275.80" y="541.70" font-size="6.5" stroke="#ffffff" stroke-width="0.03" font-weight="bold" fill="#ffffff" textLength="26.48" lengthAdjust="spacingAndGlyphs">Category</text>
<text x="364.50" y="533.70" font-size="6.5" stroke="#ffffff" stroke-width="0.03" font-weight="bold" text-anchor="middle" fill="#ffffff" textLength="36.33" lengthAdjust="spacingAndGlyphs">Median PFS,</text>
<text x="364.50" y="541.70" font-size="6.5" stroke="#ffffff" stroke-width="0.03" font-weight="bold" text-anchor="middle" fill="#ffffff" textLength="47.87" lengthAdjust="spacingAndGlyphs">months (95% CI)</text>
<text x="428.00" y="533.70" font-size="6.5" stroke="#ffffff" stroke-width="0.03" font-weight="bold" text-anchor="middle" fill="#ffffff" textLength="36.66" lengthAdjust="spacingAndGlyphs">HR (95% CI);</text>
<text x="428.00" y="541.70" font-size="6.5" stroke="#ffffff" stroke-width="0.03" font-weight="bold" text-anchor="middle" fill="#ffffff" textLength="24.68" lengthAdjust="spacingAndGlyphs"><tspan font-style="italic">P</tspan> value<tspan font-size="4.6" dy="-1.6">†</tspan></text>
<text x="488.70" y="533.70" font-size="6.5" stroke="#ffffff" stroke-width="0.03" font-weight="bold" text-anchor="middle" fill="#ffffff" textLength="33.28" lengthAdjust="spacingAndGlyphs">5-year PFS,</text>
<text x="488.70" y="541.70" font-size="6.5" stroke="#ffffff" stroke-width="0.03" font-weight="bold" text-anchor="middle" fill="#ffffff" textLength="31.24" lengthAdjust="spacingAndGlyphs">% (95% CI)</text>
<text x="275.80" y="557.60" font-size="6.4" stroke="#231f20" stroke-width="0.06" textLength="15.19" lengthAdjust="spacingAndGlyphs">VenR</text>
<text x="275.80" y="578.60" font-size="6.4" stroke="#231f20" stroke-width="0.06" textLength="8.62" lengthAdjust="spacingAndGlyphs">BR</text>
<text x="295.70" y="552.70" font-size="6.4" stroke="#231f20" stroke-width="0.06" textLength="9.31" lengthAdjust="spacingAndGlyphs">GC</text>
<text x="364.50" y="552.70" font-size="6.4" stroke="#231f20" stroke-width="0.06" text-anchor="middle" textLength="45.56" lengthAdjust="spacingAndGlyphs">41.7 (38.3, 53.0)</text>
<text x="428.00" y="552.70" font-size="6.4" stroke="#231f20" stroke-width="0.06" text-anchor="middle" textLength="47.28" lengthAdjust="spacingAndGlyphs">2.50 (4.00, 1.56);</text>
<text x="488.70" y="552.70" font-size="6.4" stroke="#231f20" stroke-width="0.06" text-anchor="middle" textLength="42.10" lengthAdjust="spacingAndGlyphs">17.7 (7.9, 39.7)</text>
<text x="295.70" y="563.40" font-size="6.4" stroke="#231f20" stroke-width="0.06" textLength="18.97" lengthAdjust="spacingAndGlyphs">No GC</text>
<text x="364.50" y="563.40" font-size="6.4" stroke="#231f20" stroke-width="0.06" text-anchor="middle" textLength="42.10" lengthAdjust="spacingAndGlyphs">59.8 (55.1, NE)</text>
<text x="428.00" y="563.40" font-size="6.4" stroke="#231f20" stroke-width="0.06" text-anchor="middle" textLength="19.16" lengthAdjust="spacingAndGlyphs">&lt;.0001</text>
<text x="488.70" y="563.40" font-size="6.4" stroke="#231f20" stroke-width="0.06" text-anchor="middle" textLength="45.56" lengthAdjust="spacingAndGlyphs">48.5 (36.3, 64.8)</text>
<text x="295.70" y="573.20" font-size="6.4" stroke="#231f20" stroke-width="0.06" textLength="9.31" lengthAdjust="spacingAndGlyphs">GC</text>
<text x="364.50" y="573.20" font-size="6.4" stroke="#231f20" stroke-width="0.06" text-anchor="middle" textLength="42.10" lengthAdjust="spacingAndGlyphs">13.8 (9.5, 22.8)</text>
<text x="428.00" y="573.20" font-size="6.4" stroke="#231f20" stroke-width="0.06" text-anchor="middle" textLength="47.28" lengthAdjust="spacingAndGlyphs">1.75 (2.56, 1.19);</text>
<text x="488.70" y="573.20" font-size="6.4" stroke="#231f20" stroke-width="0.06" text-anchor="middle" textLength="8.62" lengthAdjust="spacingAndGlyphs">NE</text>
<text x="295.70" y="583.00" font-size="6.4" stroke="#231f20" stroke-width="0.06" textLength="18.97" lengthAdjust="spacingAndGlyphs">No GC</text>
<text x="364.50" y="583.00" font-size="6.4" stroke="#231f20" stroke-width="0.06" text-anchor="middle" textLength="45.56" lengthAdjust="spacingAndGlyphs">20.5 (16.2, 26.7)</text>
<text x="428.00" y="583.00" font-size="6.4" stroke="#231f20" stroke-width="0.06" text-anchor="middle" textLength="8.63" lengthAdjust="spacingAndGlyphs">.04</text>
<text x="488.70" y="583.00" font-size="6.4" stroke="#231f20" stroke-width="0.06" text-anchor="middle" textLength="8.62" lengthAdjust="spacingAndGlyphs">NE</text>
<path d="M40.4 46.1v3.2 M43.8 47.1v3.2 M50.8 48.9v3.2 M58.8 49.3v3.2 M61.2 49.5v3.2 M71.5 51.4v3.2 M97.0 55.1v3.2 M109.5 61.7v3.2 M112.5 63.0v3.2 M122.3 65.8v3.2 M131.0 69.2v3.2 M140.8 70.5v3.2 M144.6 71.4v3.2 M152.7 75.0v3.2 M163.0 78.6v3.2 M179.2 84.0v3.2 M180.8 84.1v3.2 M184.6 84.3v3.2 M190.0 87.8v3.2 M196.9 93.9v3.2 M200.8 96.5v3.2 M206.2 98.4v3.2 M209.2 99.8v3.2 M211.5 100.9v3.2 M215.4 100.7v3.2 M220.0 100.5v3.2 M227.7 104.7v3.2 M240.0 104.7v3.2" stroke="#1a4b87" stroke-width="0.9" fill="none"/>
<path d="M38.5 45.8v3.2 M40.5 46.5v3.2 M42.5 47.3v3.2 M44.5 48.1v3.2 M46.5 48.8v3.2 M48.5 49.6v3.2 M50.5 50.1v3.2 M52.5 50.4v3.2 M69.0 68.4v3.2 M71.5 70.4v3.2 M139.2 118.0v3.2 M142.3 118.7v3.2 M146.2 119.7v3.2 M153.8 121.2v3.2 M189.2 128.6v3.2 M190.8 129.8v3.2 M207.7 132.7v3.2" stroke="#c8102e" stroke-width="0.9" fill="none"/>
<path d="M392.3 61.0v3.2 M402.3 61.0v3.2 M406.2 61.0v3.2 M413.1 61.0v3.2 M422.3 61.0v3.2 M439.2 64.8v3.2 M440.8 64.8v3.2 M444.6 64.8v3.2 M445.4 64.8v3.2 M450.8 66.6v3.2 M453.1 69.9v3.2 M454.6 69.9v3.2 M456.2 69.9v3.2 M461.5 69.9v3.2 M469.2 69.9v3.2 M470.8 69.9v3.2 M484.6 69.9v3.2" stroke="#1a4b87" stroke-width="0.9" fill="none"/>
<path d="M371.5 62.7v3.2 M381.5 65.2v3.2 M398.5 71.8v3.2 M423.1 83.2v3.2 M426.2 84.7v3.2 M437.7 89.2v3.2 M442.3 90.2v3.2 M450.0 94.2v3.2 M453.1 98.4v3.2 M454.6 99.9v3.2 M456.9 101.3v3.2 M459.2 102.6v3.2 M462.3 104.6v3.2 M467.7 105.3v3.2 M472.3 108.4v3.2 M474.6 108.4v3.2 M476.9 108.4v3.2 M483.1 108.7v3.2 M485.4 113.0v3.2 M489.2 113.0v3.2 M501.5 113.0v3.2" stroke="#1a4b87" stroke-width="0.9" fill="none"/>
<path d="M299.5 46.0v3.2 M302.0 47.1v3.2 M304.5 48.1v3.2 M307.0 48.6v3.2 M309.5 49.0v3.2 M312.0 49.4v3.2 M314.5 50.6v3.2 M406.2 124.4v3.2 M450.8 132.6v3.2 M452.3 132.6v3.2" stroke="#c8102e" stroke-width="0.9" fill="none"/>
<path d="M301.0 46.1v3.2 M305.0 47.2v3.2 M310.0 48.6v3.2 M316.0 52.1v3.2 M414.6 112.0v3.2 M447.7 121.7v3.2 M468.5 129.2v3.2" stroke="#c8102e" stroke-width="0.9" fill="none"/>
<path d="M56.5 350.1v3.2 M62.3 350.2v3.2 M151.5 365.8v3.2 M156.2 367.5v3.2 M171.5 373.7v3.2 M177.7 375.3v3.2 M190.8 382.2v3.2 M193.8 382.3v3.2 M195.4 382.4v3.2 M203.8 384.6v3.2 M206.9 388.2v3.2 M209.2 390.3v3.2 M212.3 391.7v3.2 M216.2 392.3v3.2 M223.8 394.4v3.2 M226.2 399.2v3.2 M229.2 399.3v3.2 M232.3 399.5v3.2 M241.5 399.9v3.2" stroke="#1a4b87" stroke-width="0.9" fill="none"/>
<path d="M75.0 360.1v3.2 M163.8 393.4v3.2 M188.5 398.9v3.2 M195.4 400.7v3.2 M207.7 406.9v3.2 M212.3 413.0v3.2 M216.9 413.0v3.2 M224.6 413.0v3.2 M228.5 413.0v3.2 M238.5 413.0v3.2 M246.9 425.0v3.2" stroke="#1a4b87" stroke-width="0.9" fill="none"/>
<path d="M40.0 348.3v3.2 M43.0 349.2v3.2 M46.0 350.1v3.2 M49.0 351.1v3.2 M52.0 352.1v3.2 M147.3 416.2v3.2 M149.0 416.6v3.2 M151.3 417.2v3.2 M153.1 417.6v3.2 M154.8 418.3v3.2 M157.1 419.2v3.2 M165.2 421.4v3.2 M224.6 435.6v3.2" stroke="#c8102e" stroke-width="0.9" fill="none"/>
<path d="M41.0 349.2v3.2 M44.0 350.7v3.2 M47.0 351.7v3.2 M50.0 352.5v3.2" stroke="#c8102e" stroke-width="0.9" fill="none"/>
<path d="M322.3 351.5v3.2 M336.2 352.2v3.2 M417.7 367.6v3.2 M438.5 369.8v3.2 M440.8 370.3v3.2 M456.8 375.9v3.2 M458.8 377.9v3.2 M461.5 377.9v3.2 M471.0 379.1v3.2 M475.0 382.6v3.2 M477.0 384.0v3.2 M479.0 385.2v3.2 M480.4 386.0v3.2 M484.4 386.3v3.2 M493.2 389.6v3.2 M495.2 394.1v3.2 M497.9 394.1v3.2 M501.2 394.1v3.2 M503.9 394.1v3.2" stroke="#1a4b87" stroke-width="0.9" fill="none"/>
<path d="M313.0 352.2v3.2 M423.0 380.7v3.2 M444.7 400.8v3.2 M462.2 405.2v3.2 M475.0 412.5v3.2 M476.3 415.7v3.2 M485.0 421.3v3.2 M495.1 421.3v3.2" stroke="#1a4b87" stroke-width="0.9" fill="none"/>
<path d="M301.0 348.6v3.2 M305.0 349.9v3.2 M309.0 351.2v3.2 M313.0 352.4v3.2 M411.9 415.7v3.2 M414.2 416.4v3.2 M418.1 417.6v3.2 M431.2 421.6v3.2 M435.0 422.2v3.2 M472.5 431.5v3.2 M492.7 435.0v3.2" stroke="#c8102e" stroke-width="0.9" fill="none"/>
<path d="M303.0 349.1v3.2 M307.0 350.5v3.2 M311.0 352.0v3.2 M315.0 355.1v3.2 M319.0 356.4v3.2 M421.9 432.2v3.2" stroke="#c8102e" stroke-width="0.9" fill="none"/>
<rect x="0.5" y="0.5" width="519" height="593" fill="none" stroke="#000" stroke-width="1"/>
</svg>
</body></html>
